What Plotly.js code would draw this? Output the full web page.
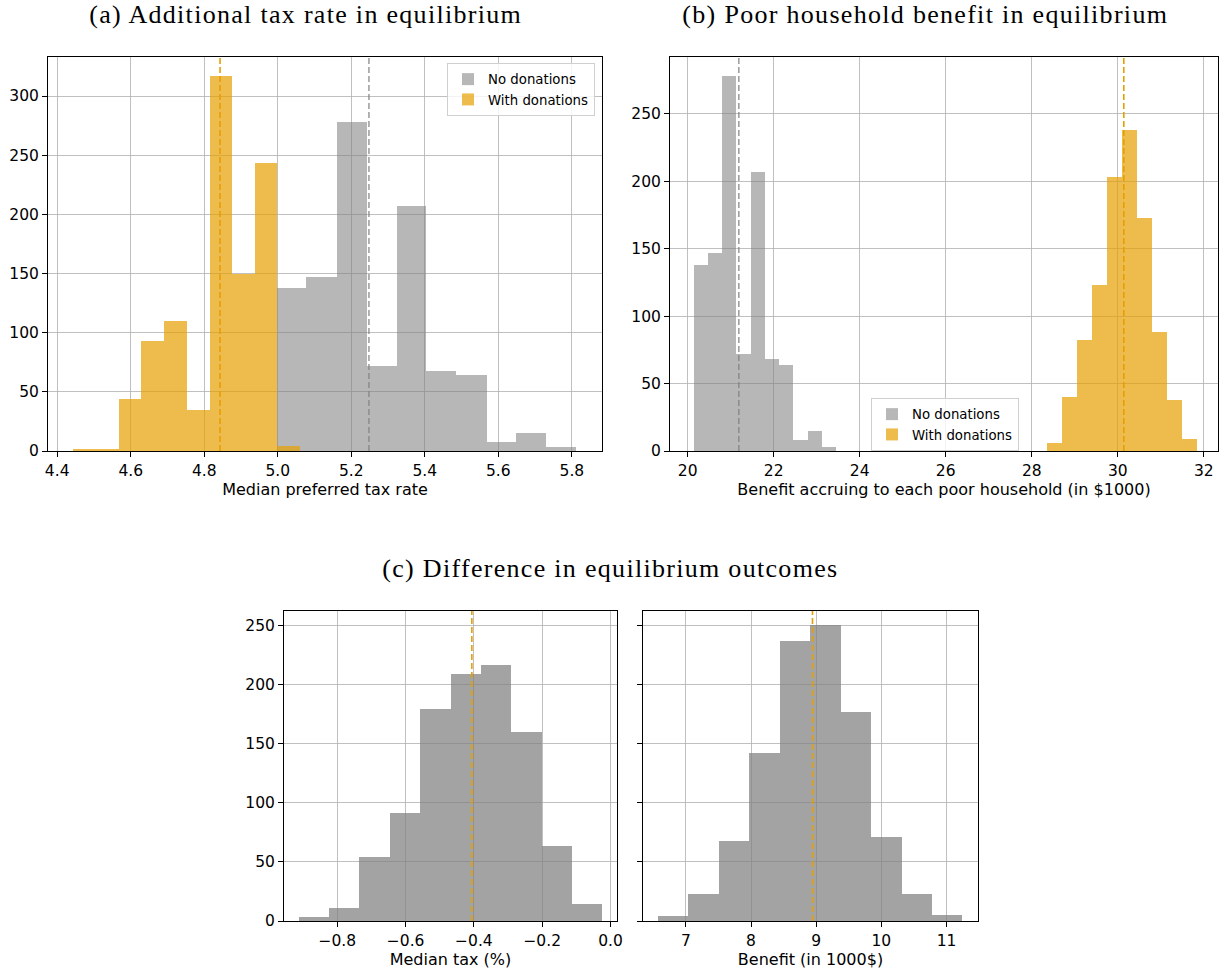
<!DOCTYPE html>
<html>
<head>
<meta charset="utf-8">
<script src="https://cdn.plot.ly/plotly-3.0.1.min.js"></script>
<style>
  html, body { margin: 0; padding: 0; background: #fff; }
  #chart { width: 1228px; height: 970px; }
  #chart .annotation-text { letter-spacing: 1.3px; }
</style>
</head>
<body>
<div id="chart"></div>
<script>
// ---------- DATA ----------
const seriesNames = ["No donations", "With donations"];

// (a) Median preferred tax rate
const taxEdgesNo   = [4.997, 5.078, 5.160, 5.242, 5.323, 5.404, 5.486, 5.568, 5.649, 5.731, 5.812];
const taxCountsNo  = [138, 147, 278, 72, 207, 68, 64, 8, 15, 3];
const taxEdgesWith = [4.444, 4.506, 4.568, 4.629, 4.691, 4.753, 4.815, 4.876, 4.938, 4.999, 5.060];
const taxCountsWith = [2, 2, 44, 93, 110, 35, 317, 150, 243, 4];
const taxMedianNo = 5.248;
const taxMedianWith = 4.843;

// (b) Benefit accruing to each poor household (in $1000)
const benEdgesNo   = [20.142, 20.473, 20.804, 21.135, 21.466, 21.797, 22.128, 22.459, 22.790, 23.121, 23.452];
const benCountsNo  = [138, 147, 278, 72, 207, 68, 64, 8, 15, 3];
const benEdgesWith = [28.356, 28.704, 29.052, 29.400, 29.748, 30.096, 30.444, 30.792, 31.140, 31.488, 31.836];
const benCountsWith = [6, 40, 82, 123, 203, 238, 173, 88, 38, 9];
const benMedianNo = 21.19;
const benMedianWith = 30.14;

// (c) Differences
const dTaxEdges  = [-0.912, -0.823, -0.735, -0.646, -0.557, -0.468, -0.380, -0.291, -0.202, -0.114, -0.025];
const dTaxCounts = [3, 11, 54, 91, 179, 209, 216, 160, 63, 14];
const dTaxMedian = -0.406;
const dBenEdges  = [6.573, 7.040, 7.507, 7.974, 8.441, 8.908, 9.375, 9.842, 10.309, 10.776, 11.243];
const dBenCounts = [4, 23, 68, 142, 237, 250, 177, 71, 23, 5];
const dBenMedian = 8.943;

const titles = [
  "(a) Additional tax rate in equilibrium",
  "(b) Poor household benefit in equilibrium",
  "(c) Difference in equilibrium outcomes"
];
const axisTitles = [
  "Median preferred tax rate",
  "Benefit accruing to each poor household (in $1000)",
  "Median tax (%)",
  "Benefit (in 1000$)"
];

// ---------- STYLE ----------
const GRAY = "rgba(128,128,128,0.57)";
const ORANGE = "rgba(230,159,0,0.7)";
const GRAY_C = "rgba(128,128,128,0.72)";
const ORANGE_LINE = "#E69F00";
const GRAY_LINE = "rgba(128,128,128,0.75)";

function hist(edges, counts, name, color, xa, ya, legend, showlegend) {
  const x = [], w = [];
  for (let i = 0; i < counts.length; i++) {
    x.push((edges[i] + edges[i + 1]) / 2);
    w.push(edges[i + 1] - edges[i]);
  }
  return {
    type: "bar", x: x, y: counts, width: w, name: name,
    marker: { color: color, line: { width: 0 } },
    xaxis: xa, yaxis: ya, legend: legend, showlegend: showlegend,
    hoverinfo: "x+y"
  };
}

const traces = [
  hist(taxEdgesNo, taxCountsNo, seriesNames[0], GRAY, "x", "y", "legend", true),
  hist(taxEdgesWith, taxCountsWith, seriesNames[1], ORANGE, "x", "y", "legend", true),
  hist(benEdgesNo, benCountsNo, seriesNames[0], GRAY, "x2", "y2", "legend2", true),
  hist(benEdgesWith, benCountsWith, seriesNames[1], ORANGE, "x2", "y2", "legend2", true),
  hist(dTaxEdges, dTaxCounts, "Median tax", GRAY_C, "x3", "y3", "legend", false),
  hist(dBenEdges, dBenCounts, "Benefit", GRAY_C, "x4", "y4", "legend", false)
];

const W = 1228, H = 970;
const px = (a, b) => [a / W, b / W];
const py = (top, bottom) => [1 - bottom / H, 1 - top / H];

const tickFont = { family: "DejaVu Sans, sans-serif", size: 15.5, color: "#000" };
const axTitleFont = { family: "DejaVu Sans, sans-serif", size: 16, color: "#000" };
const legendFont = { family: "DejaVu Sans, sans-serif", size: 13.3, color: "#000" };

function axis(extra) {
  return Object.assign({
    showgrid: true, gridcolor: "#b0b0b0", gridwidth: 0.8,
    zeroline: false, showline: true, linecolor: "#000", linewidth: 1, mirror: true,
    ticks: "outside", ticklen: 5, tickwidth: 1, tickcolor: "#000",
    tickfont: tickFont, automargin: false, fixedrange: true
  }, extra);
}

function vline(xref, yref, x, color) {
  return {
    type: "line", xref: xref, yref: yref + " domain", x0: x, x1: x, y0: 0, y1: 1,
    line: { color: color, width: 1.6, dash: "6px,3px" }, layer: "above"
  };
}

const titleFont = { family: "Liberation Serif, serif", size: 26, color: "#000" };

const layout = {
  width: W, height: H,
  margin: { l: 0, r: 0, t: 0, b: 0 },
  paper_bgcolor: "#fff", plot_bgcolor: "#fff",
  barmode: "overlay", bargap: 0,
  showlegend: true,
  xaxis: axis({ domain: px(48, 602), anchor: "y", range: [4.375, 5.882], tick0: 4.4, dtick: 0.2, tickformat: ".1f",
    title: { text: axisTitles[0], font: axTitleFont, standoff: 3 } }),
  yaxis: axis({ domain: py(57, 451), anchor: "x", range: [0, 333], dtick: 50 }),
  xaxis2: axis({ domain: px(670, 1218), anchor: "y2", range: [19.59, 32.33], dtick: 2,
    title: { text: axisTitles[1], font: axTitleFont, standoff: 3 } }),
  yaxis2: axis({ domain: py(57, 451), anchor: "x2", range: [0, 292], dtick: 50 }),
  xaxis3: axis({ domain: px(284, 617), anchor: "y3", range: [-0.956, 0.019], tick0: 0, dtick: 0.2, tickformat: ".1f",
    title: { text: axisTitles[2], font: axTitleFont, standoff: 3 } }),
  yaxis3: axis({ domain: py(611, 921), anchor: "x3", range: [0, 262], dtick: 50 }),
  xaxis4: axis({ domain: px(643, 978), anchor: "y4", range: [6.342, 11.483], dtick: 1,
    title: { text: axisTitles[3], font: axTitleFont, standoff: 3 } }),
  yaxis4: axis({ domain: py(611, 921), anchor: "x4", range: [0, 262], dtick: 50, showticklabels: false }),
  legend: {
    x: 595 / W, xanchor: "right", y: 1 - 63 / H, yanchor: "top",
    bgcolor: "rgba(255,255,255,0.8)", bordercolor: "#d0d0d0", borderwidth: 1,
    font: legendFont, tracegroupgap: 0, traceorder: "normal"
  },
  legend2: {
    x: 871 / W, xanchor: "left", y: 1 - 398 / H, yanchor: "top",
    bgcolor: "rgba(255,255,255,0.8)", bordercolor: "#d0d0d0", borderwidth: 1,
    font: legendFont, tracegroupgap: 0, traceorder: "normal"
  },
  shapes: [
    vline("x", "y", taxMedianNo, GRAY_LINE),
    vline("x", "y", taxMedianWith, ORANGE_LINE),
    vline("x2", "y2", benMedianNo, GRAY_LINE),
    vline("x2", "y2", benMedianWith, ORANGE_LINE),
    vline("x3", "y3", dTaxMedian, ORANGE_LINE),
    vline("x4", "y4", dBenMedian, ORANGE_LINE)
  ],
  annotations: [
    { text: titles[0], xref: "paper", yref: "paper", x: 305 / W, y: 1 - 15 / H, xanchor: "center", yanchor: "middle", showarrow: false, font: titleFont },
    { text: titles[1], xref: "paper", yref: "paper", x: 925 / W, y: 1 - 15 / H, xanchor: "center", yanchor: "middle", showarrow: false, font: titleFont },
    { text: titles[2], xref: "paper", yref: "paper", x: 610 / W, y: 1 - 568 / H, xanchor: "center", yanchor: "middle", showarrow: false, font: titleFont }
  ]
};

Plotly.newPlot("chart", traces, layout, { staticPlot: true, displayModeBar: false });
</script>
</body>
</html>
